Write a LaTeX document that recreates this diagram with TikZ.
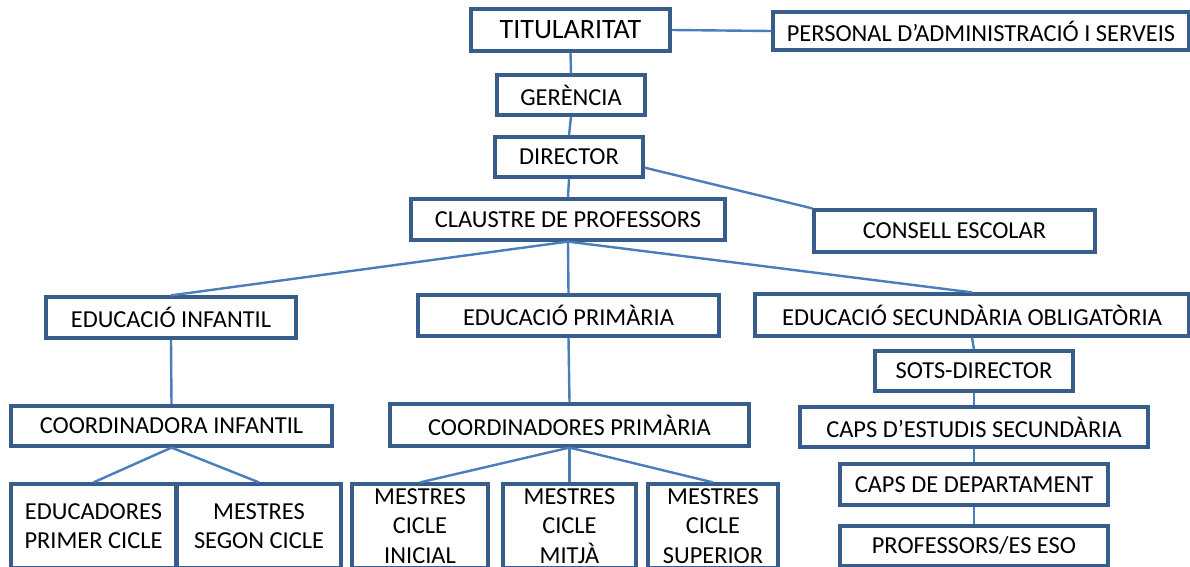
\documentclass[tikz,border=0pt]{standalone}
\usepackage{fontspec}
\setmainfont{Carlito}
\definecolor{boxblue}{RGB}{56,93,138}
\definecolor{lineblue}{RGB}{74,126,187}

\begin{document}
\begin{tikzpicture}[x=0.5pt, y=-0.5pt,
    box/.style={draw=boxblue, line width=1.6pt, fill=white, inner sep=1pt,
        align=center, font=\fontsize{12.2}{14.6}\selectfont},
    link/.style={draw=lineblue, line width=1.2pt}]
% keep the page at the size of the reference
    \useasboundingbox (0,0) rectangle (1190,567);

    % top of the school
    \node [box, minimum width=99.5pt, minimum height=21pt, font=\fontsize{14}{16}\selectfont] (tit) at (570.5,30) {TITULARITAT};
    \node [box, minimum width=208pt, minimum height=19pt] (pas) at (981,31) {PERSONAL D'ADMINISTRACIÓ I SERVEIS};
    \node [box, minimum width=74pt, minimum height=20pt] (ger) at (571,95) {GERÈNCIA};
    \node [box, minimum width=74pt, minimum height=20pt] (dir) at (569,157) {DIRECTOR};
    \node [box, minimum width=157pt, minimum height=20.5pt] (cla) at (568,219.5) {CLAUSTRE DE PROFESSORS};
    \node [box, minimum width=140.5pt, minimum height=21pt] (ces) at (954.5,231) {CONSELL ESCOLAR};

    % the three stages
    \node [box, minimum width=125pt, minimum height=20.5pt] (einf) at (171,317.5) {EDUCACIÓ INFANTIL};
    \node [box, minimum width=150.5pt, minimum height=20.5pt] (epri) at (568.5,315.5) {EDUCACIÓ PRIMÀRIA};
    \node [box, minimum width=217pt, minimum height=21pt] (eso) at (972,315) {EDUCACIÓ SECUNDÀRIA OBLIGATÒRIA};

    % infantil
    \node [box, minimum width=160.5pt, minimum height=20pt] (cinf) at (171.5,426) {COORDINADORA INFANTIL};
    \node [box, minimum width=82.5pt, minimum height=42pt] (edpc) at (93.5,526) {EDUCADORES\\PRIMER CICLE};
    \node [box, minimum width=82pt, minimum height=42pt] (mesc) at (259,526) {MESTRES\\SEGON CICLE};

    % primaria
    \node [box, minimum width=179.5pt, minimum height=21pt] (cpri) at (569.5,425) {COORDINADORES PRIMÀRIA};
    \node [box, minimum width=68pt, minimum height=42pt] (mci) at (420,526) {MESTRES\\CICLE\\INICIAL};
    \node [box, minimum width=66.5pt, minimum height=42pt] (mcm) at (569.5,526) {MESTRES\\CICLE\\MITJÀ};
    \node [box, minimum width=65pt, minimum height=42pt] (mcs) at (713,526) {MESTRES\\CICLE\\SUPERIOR};

    % secundaria
    \node [box, minimum width=99pt, minimum height=20pt] (sots) at (974,371) {SOTS-DIRECTOR};
    \node [box, minimum width=174pt, minimum height=20pt] (cest) at (974,427) {CAPS D'ESTUDIS SECUNDÀRIA};
    \node [box, minimum width=134pt, minimum height=20.5pt] (cdep) at (974,484.5) {CAPS DE DEPARTAMENT};
    \node [box, minimum width=134pt, minimum height=20pt] (peso) at (974,546) {PROFESSORS/ES ESO};

    % connectors
    \draw [link] (tit.east) -- (pas.west);
    \draw [link] (dir.-8.5) -- (ces.north west);
    \foreach \a/\b in {tit/ger, ger/dir, dir/cla, cla/einf, cla/epri, cla/eso, einf/cinf, epri/cpri,
                       cinf/edpc, cinf/mesc, cpri/mci, cpri/mcm, cpri/mcs,
                       eso/sots, sots/cest, cest/cdep, cdep/peso}{
        \draw [link] (\a.south) -- (\b.north);
    }

\end{tikzpicture}
\end{document}
